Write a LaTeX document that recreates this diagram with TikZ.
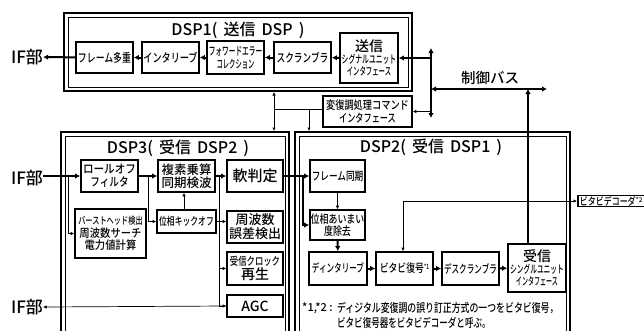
\documentclass[tikz,border=0pt]{standalone}
\usepackage{fontspec}
\setmainfont{Noto Sans CJK JP Medium}
\usetikzlibrary{arrows.meta,calc}
\newcommand\cnd[2][0.8]{\scalebox{#1}[1]{#2}}
\newcommand\fs[1]{\fontsize{#1}{#1}\selectfont}
\tikzset{
  blk/.style={draw, line width=1.7pt, inner sep=0pt, align=center, font=\fs{12}},
  obox/.style={draw, line width=2pt, inner sep=0pt},
  ibox/.style={draw, line width=0.8pt, inner sep=0pt},
  thk/.style={line width=2pt, -{Latex[length=5pt,width=5.5pt]}},
  thn/.style={line width=0.7pt, -{Latex[length=3.5pt,width=3.5pt]}},
  ttl/.style={font=\fs{16}},
  lbl/.style={font=\fs{17}, inner sep=0pt},
}
\begin{document}
\begin{tikzpicture}[x=1pt,y=-1pt]
\useasboundingbox (0,0) rectangle (644,330);
\clip (0,0) rectangle (644,330);
% containers
\node[obox, minimum width=348, minimum height=78] (dsp1) at (238,52) {};
\node[ibox, minimum width=340, minimum height=70] at (238,52) {};
\node[obox, minimum width=228, minimum height=213] (dsp3) at (175,238.5) {};
\node[ibox, minimum width=220, minimum height=205] at (175,238.5) {};
\node[obox, minimum width=275, minimum height=213] (dsp2) at (432.5,238.5) {};
\node[ibox, minimum width=267, minimum height=205] at (432.5,238.5) {};
\node[ttl] (t1) at (238,30) {DSP1(\hspace{6pt}送信\hspace{6pt}DSP\hspace{6pt})};
\node[ttl] (t3) at (178,148) {DSP3(\hspace{6pt}受信\hspace{6pt}DSP2\hspace{6pt})};
\node[ttl] (t2) at (431,147) {DSP2(\hspace{6pt}受信\hspace{6pt}DSP1\hspace{6pt})};
% DSP1 blocks
\node[blk, minimum width=57, minimum height=31] (fm) at (104.5,57.5) {\cnd[0.74]{フレーム多重}};
\node[blk, minimum width=57, minimum height=31] (il) at (170.5,57.5) {\cnd[0.76]{インタリーブ}};
\node[blk, minimum width=57, minimum height=33, font=\fs{11.5}] (fec) at (235.5,57.5) {\cnd[0.58]{フォワードエラー}\\[1.5pt]\cnd[0.55]{コレクション}};
\node[blk, minimum width=57, minimum height=31] (scr) at (302.5,57.5) {\cnd[0.72]{スクランブラ}};
\node[blk, minimum width=58, minimum height=50, font=\fs{11}] (txif) at (369,58) {{\fs{14}送信}\\[1pt]\cnd[0.62]{シグナルユニット}\\[1pt]\cnd[0.58]{インタフェース}};
\node[blk, minimum width=89, minimum height=31, font=\fs{11.5}] (cmd) at (367.5,111.5) {\cnd[0.8]{変復調処理コマンド}\\[1pt]\cnd[0.71]{インタフェース}};
\node[lbl] (if1) at (27,57) {IF部};
\draw[thk] (txif) -- (scr);
\draw[thk] (scr) -- (fec);
\draw[thk] (fec) -- (il);
\draw[thk] (il) -- (fm);
\draw[thk] (fm) -- (if1);
% control bus
\coordinate (bt) at (431,48);
\coordinate (bb) at (431,118);
\coordinate (hl) at (431,89);
\coordinate (hr) at (547,89);
\coordinate (bv) at (528,89);
\draw[line width=2pt, {Latex[length=5pt,width=5.5pt]}-{Latex[length=5pt,width=5.5pt]}] (bt) -- (bb);
\draw[thk] (bt |- txif) -- (txif.east);
\draw[thn] (bt |- cmd) -- (cmd.east);
\draw[line width=2pt, {Latex[length=5pt,width=5.5pt]}-{Latex[length=5pt,width=5.5pt]}] (hl) -- (hr);
\node[lbl, font=\fs{14.5}] (bus) at (490,78) {制御バス};
\coordinate (j1) at (274,109);
\coordinate (j2) at (309,109);
\draw[line width=0.7pt] (cmd.west |- j1) -- (j1);
\draw[line width=0.7pt, {Latex[length=3.5pt,width=3.5pt]}-{Latex[length=3.5pt,width=3.5pt]}] (j1 |- dsp1.south) -- (j1 |- dsp3.north);
\draw[thn] (j2) -- (j2 |- dsp2.north);
% DSP3 blocks
\node[blk, minimum width=57, minimum height=32] (ro) at (109.5,176) {\cnd[0.88]{ロールオフ}\\[1pt]\cnd[0.8]{フィルタ}};
\node[blk, minimum width=57, minimum height=32, font=\fs{12.5}] (cm) at (186.5,176) {複素乗算\\[1pt]同期検波};
\node[blk, minimum width=56, minimum height=32, font=\fs{15}] (sd) at (255,176) {軟判定};
\node[blk, minimum width=71, minimum height=49, font=\fs{11.5}] (bh) at (110.5,233.5) {{\fs{10}\cnd[0.72]{バーストヘッド検出}}\\[1pt]\cnd[0.9]{周波数サーチ}\\[1pt]\cnd[0.9]{電力値計算}};
\node[blk, minimum width=59, minimum height=23, font=\fs{11}] (pk) at (186.5,221.5) {\cnd[0.71]{位相キックオフ}};
\node[blk, minimum width=56, minimum height=32, font=\fs{13}] (fe) at (255,227) {周波数\\[1pt]誤差検出};
\node[blk, minimum width=56, minimum height=33, font=\fs{11}] (ck) at (255,268.5) {\cnd[0.76]{受信クロック}\\[1pt]{\fs{14}再生}};
\node[blk, minimum width=56, minimum height=22, font=\fs{14}] (agc) at (255,306) {AGC};
\node[lbl] (if2) at (27,178) {IF部};
\node[lbl] (if3) at (27,307) {IF部};
\draw[thk] (if2.east |- ro) -- (ro);
\draw[thk] (ro) -- (cm);
\draw[thk] (cm) -- (sd);
\coordinate (k1) at (68,176);
\coordinate (k2) at (148,176);
\coordinate (k3) at (219,176);
\draw[thn] (k1) |- (bh.west);
\draw[thn] (k2) |- (pk.west);
\draw[thn] (pk.north -| 184,0) -- (cm.south -| 184,0);
\draw[thn] (pk.east) -- (pk.east -| fe.west);
\draw[line width=0.7pt] (k3) -- (k3 |- agc);
\draw[thn] (k3 |- ck) -- (ck.west);
\draw[thn] (k3 |- agc) -- (agc.west);
\draw[thn] (agc.west) -- (if3.east);
% DSP2 blocks
\node[blk, minimum width=55, minimum height=32, font=\fs{11.5}] (fs) at (337.5,176) {\cnd[0.75]{フレーム同期}};
\node[blk, minimum width=55, minimum height=30, font=\fs{11.5}] (pa) at (337.5,225) {\cnd[0.78]{位相あいまい}\\[1pt]\cnd[0.78]{度除去}};
\node[blk, minimum width=58, minimum height=33, font=\fs{11.5}] (di) at (338,268.5) {\cnd[0.66]{ディンタリーブ}};
\node[blk, minimum width=57, minimum height=33, font=\fs{11.5}] (vd) at (404.5,268.5) {\cnd[0.77]{ビタビ復号}\raisebox{3pt}{\fs{7}\cnd[0.7]{*1}}};
\node[blk, minimum width=57, minimum height=33, font=\fs{11.5}] (ds) at (470.5,268.5) {\cnd[0.66]{デスクランブラ}};
\node[blk, minimum width=58, minimum height=48, font=\fs{11}] (rxif) at (537,268) {{\fs{14}受信}\\[1pt]\cnd[0.61]{シングルユニット}\\[1pt]\cnd[0.55]{インタフェース}};
\node[draw, line width=1.7pt, anchor=west, inner xsep=2pt, inner ysep=0.5pt, font=\fs{10.5}] (vb) at (577,201) {\cnd[0.76]{ビタビデコーダ}\raisebox{2.5pt}{\fs{6.5}*2}};
\draw[thk] (sd) -- (fs);
\coordinate (k4) at (303,176);
\draw[thk] (k4) |- (pa.west);
\draw[thn] (fs) -- (pa);
\draw[thk] (pa) -- (di);
\draw[thk] (di) -- (vd);
\draw[thk] (vd) -- (ds);
\draw[thk] (ds) -- (rxif);
\draw[line width=0.7pt, {Latex[length=3.5pt,width=3.5pt]}-{Latex[length=3.5pt,width=3.5pt]}] (vd.north -| 403,0) |- (vb.west);
\draw[line width=2pt, {Latex[length=5pt,width=5.5pt]}-] (bv) -- (bv |- rxif.north);
% footnote
\node[anchor=west, inner sep=0pt, font=\fs{11}] (n0) at (302,308) {*1,*2 :};
\node[anchor=west, inner sep=0pt, font=\fs{12}] (n1) at (337,308) {\cnd[0.74]{ディジタル変復調の誤り訂正方式の一つをビタビ復号，}};
\node[anchor=west, inner sep=0pt, font=\fs{12}] (n2) at (337,323) {\cnd[0.71]{ビタビ復号器をビタビデコーダと呼ぶ。}};
\end{tikzpicture}
\end{document}
